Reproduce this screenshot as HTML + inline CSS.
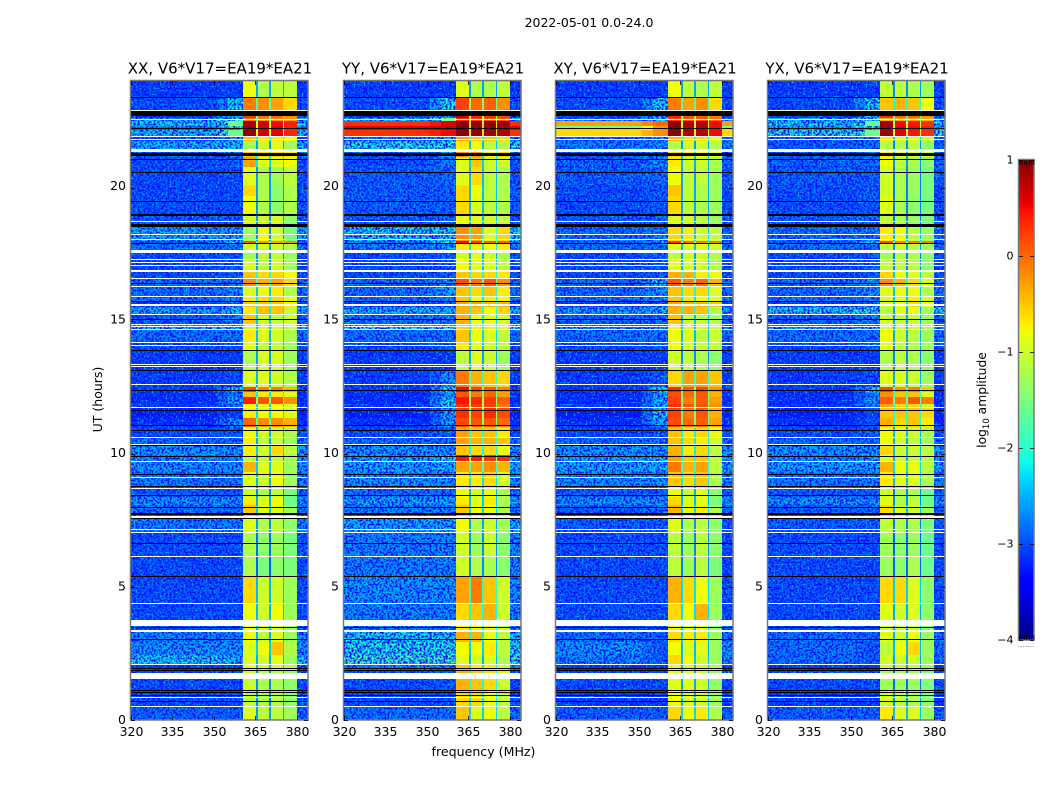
<!DOCTYPE html>
<html lang="en">
<head>
<meta charset="utf-8">
<title>2022-05-01 0.0-24.0</title>
<style>
html,body{margin:0;padding:0;background:#fff;}
svg{display:block;}
text{font-family:"DejaVu Sans","Liberation Sans",sans-serif;fill:#000;}
</style>
</head>
<body>
<svg id="figure" xmlns="http://www.w3.org/2000/svg" width="1050" height="800" viewBox="0 0 1050 800">
<defs>
<filter id="grain" x="0" y="0" width="100%" height="100%" color-interpolation-filters="sRGB">
<feTurbulence type="fractalNoise" baseFrequency="0.5" numOctaves="1" seed="4" result="n1"/>
<feColorMatrix in="n1" type="matrix" values="0 0 0 0 0  0 0 0 0 0.7  0 0 0 0 1  6 0 0 0 -3.5" result="light"/>
<feTurbulence type="fractalNoise" baseFrequency="0.5" numOctaves="1" seed="19" result="n2"/>
<feColorMatrix in="n2" type="matrix" values="0 0 0 0 0  0 0 0 0 0.05  0 0 0 0 1  6 0 0 0 -2.6" result="dark"/>
<feMerge result="m"><feMergeNode in="dark"/><feMergeNode in="light"/></feMerge>
<feComposite in="m" in2="SourceAlpha" operator="in"/>
</filter>
</defs>
<text x="589" y="27" font-size="12.5" text-anchor="middle">2022-05-01 0.0-24.0</text>
<text x="483.5" y="756" font-size="12.6" text-anchor="middle">frequency (MHz)</text>
<text transform="translate(102,399.5) rotate(-90)" font-size="12.5" text-anchor="middle">UT (hours)</text>
<text transform="translate(986,400) rotate(-90)" font-size="12.3" text-anchor="middle">log<tspan font-size="8.5" dy="3">10</tspan><tspan dy="-3"> amplitude</tspan></text>
<g id="panels"></g>
<g id="colorbar"></g>
</svg>
<script>
// ---- chart data ----
const panelTitles = ["XX, V6*V17=EA19*EA21","YY, V6*V17=EA19*EA21","XY, V6*V17=EA19*EA21","YX, V6*V17=EA19*EA21"];
const freqTicks = [320,335,350,365,380];
const hourTicks = [0,5,10,15,20];
const colorbarTicks = [1,0,-1,-2,-3,-4];
// time-row boundaries in hours, top of plot to bottom
const timeEdges = [24,23.36,22.86,22.61,22.49,22.31,22.16,21.93,21.74,21.4,21.14,20.77,20.09,19.68,18.96,18.55,17.99,17.87,17.57,17.27,16.9,16.6,16.26,15.88,15.7,15.51,15.21,14.83,14.65,14.16,13.86,13.11,12.5,12.32,12.13,11.87,11.72,11.34,11,10.59,10.29,9.95,9.69,9.31,8.75,8.37,8.07,7.55,7.02,6.12,5.37,4.39,3.72,3.34,2.93,2.44,2.07,1.84,1.09,0.49,0];
// frequency-column boundaries in MHz and the matching value slot (0 bg,1 edge,2-5 sub-bands,-1 gap between sub-bands,-2 bg/edge blend)
const freqEdges = [320,351,355,360.6,365.07,365.8,370,370.7,374.8,375.5,380,384];
const freqSlots = [0,-2,1,2,-1,3,-1,4,-1,5,0];
// flagged (blank) integrations: [hour, thickness in hours]
const maskedRows = [[22.9,.04],[22.55,.05],[21.93,.04],[21.8,.04],[21.4,.11],[18.74,.05],[18.23,.04],[18.04,.04],[17.59,.1],[17.29,.04],[17.18,.04],[17.07,.04],[16.87,.07],[16.58,.04],[16.28,.05],[15.9,.04],[15.57,.06],[15.23,.04],[14.85,.04],[14.78,.04],[14.66,.05],[14.18,.04],[14.07,.03],[13.35,.04],[13.27,.04],[12.6,.04],[11.74,.04],[10.61,.04],[10.35,.04],[9.71,.04],[9.11,.04],[8.69,.04],[8.43,.04],[7.64,.08],[7.15,.04],[7.04,.04],[6.14,.04],[4.37,.04],[3.63,.23],[3.36,.07],[2.08,.04],[1.67,.23],[.84,.04],[.51,.04]];
// zero-amplitude integrations drawn black: [hour, thickness in hours]
const zeroRows = [[23.38,.04],[22.77,.19],[22.21,.04],[21.25,.1],[21.05,.04],[20.56,.04],[19.47,.04],[18.98,.04],[18.93,.04],[18.59,.13],[17.89,.04],[16.39,.04],[15.72,.04],[15.04,.04],[13.88,.04],[13.13,.04],[12.37,.04],[11.62,.04],[11.06,.04],[10.87,.04],[10.31,.04],[9.89,.04],[9.22,.04],[8.77,.04],[8.43,.04],[7.98,.04],[7.75,.08],[7.57,.04],[6.63,.04],[5.39,.04],[3.47,.05],[3.02,.04],[1.93,.04],[1.86,.04],[1.11,.04],[1.03,.04],[.92,.04],[.69,.04]];
// log10 amplitude per row: [bg, edge, band1, band2, band3, band4]
const valuesXX = [
[-3,-3,-.8,-1.2,-1.1,-1.1],[-2.9,-2.2,-.1,-.2,-.3,-.6],[-3,-2.5,.3,0,0,-.2],[-2.4,-1.8,-.1,-.2,-.2,-.3],
[-2.2,-1.6,.8,.65,.5,.4],[-2.6,-1.8,.85,.65,.55,.4],[-2.3,-1.6,.9,.65,.55,.35],
[-2.9,-2.6,-.5,-.7,-.7,-.8],[-2.3,-2.2,-1.3,-1,-.9,-1.3],[-2.8,-2.6,-.5,-.6,-.6,-.7],[-2.9,-2.8,-.3,-.9,-.9,-.8],
[-2.9,-2.9,-.9,-1.2,-1.3,-1.1],[-2.9,-2.9,-.6,-1.2,-1.4,-1.2],[-2.9,-2.9,-.8,-1.2,-1.4,-1.2],[-2.8,-2.8,-1,-1,-1,-1.4],
[-2.4,-2.4,-1.3,-.8,-1,-1.5],[-2.8,-2.1,.1,-.2,-.3,-.2],[-2.7,-2.7,-1,-1,-1,-1.2],[-2.9,-2.8,-1.3,-1.1,-1.1,-1.3],
[-2.9,-2.8,-1,-1.1,-1,-1.3],[-2.9,-2.8,-.5,-.6,-.6,-.8],[-2.7,-2.6,-.2,-.4,-.3,-.6],[-2.7,-2.5,-.9,-.8,-.7,-1.2],
[-2.7,-2.6,-.7,-.6,-.6,-.8],[-3,-2.8,-.5,-.5,-.5,-.7],[-2.4,-2.2,-.7,-.5,-.5,-1.1],[-2.8,-2.6,-.5,-1,-1.1,-1],
[-2.3,-2.3,-1,-1,-1,-1.1],[-2.7,-2.7,-.7,-.9,-1,-1.2],[-2.9,-2.8,-.9,-1.1,-1.1,-1.3],[-3,-3,-1.2,-.95,-.95,-1.3],
[-3,-2.9,-.9,-.9,-1,-1.2],[-3,-2.2,.2,-.1,-.1,-.4],[-3.1,-2.7,-.5,-.7,-.7,-.9],[-3.1,-2.4,.4,.1,.1,-.2],
[-3,-2.6,-.8,-.8,-.8,-1],[-3.2,-3,-.7,-.8,-.8,-.9],[-3.1,-2.5,0,-.2,-.2,-.4],[-2.9,-2.8,-.8,-1,-1,-1.2],
[-2.7,-2.7,-.7,-1.1,-1.1,-1.3],[-2.5,-2.5,-.7,-1,-.6,-1.1],[-2.5,-2.5,-1.1,-1.1,-1.1,-1.3],[-2.5,-2.5,-.4,-.9,-.9,-1.3],
[-2.6,-2.6,-.9,-1,-.8,-1.3],[-2.8,-2.8,-1,-1.2,-1.1,-1.5],[-2.5,-2.5,-.7,-.9,-.8,-1.6],[-2.7,-2.7,-.5,-.9,-.9,-1.3],
[-2.6,-2.6,-.9,-1.2,-1.1,-1.4],[-2.9,-2.9,-1.2,-1.4,-1.3,-1.5],[-2.9,-2.9,-1.2,-1.5,-1.4,-1.5],[-2.9,-2.9,-.6,-1,-1,-1.3],
[-2.9,-2.9,-.8,-1,-.8,-1.3],[-2.9,-2.9,-.8,-1,-.9,-1.3],[-2.6,-2.6,-.8,-1.1,-.9,-1.3],[-2.5,-2.5,-.9,-.8,-.5,-1.2],
[-2.2,-2.3,-.9,-1,-.9,-1.3],[-3,-3,-.8,-1,-1,-1.2],[-2.9,-2.9,-1,-1.2,-1.2,-1.4],[-2.9,-2.9,-1.1,-1.2,-1.2,-1.4],[-2.8,-2.8,-.9,-1.1,-1.1,-1.3]];
const valuesYY = [
[-3,-3,-.9,-1.2,-1.2,-1.1],[-2.9,-2.1,.2,0,.05,-.2],[-3,-2.4,.7,.4,.3,.2],[-2.2,-1.5,.3,.2,.1,.1],
[.3,.6,.95,.95,.9,.85],[.55,.7,.95,.95,.9,.85],[.3,.5,.95,.9,.85,.8],
[-2.7,-2.4,-.3,-.5,-.5,-.6],[-2.1,-2,-.7,-.8,-1.1,-1.2],[-2.8,-2.5,-.2,-.2,-.7,-.6],[-2.9,-2.6,-.9,-.5,-1,-1],
[-2.8,-2.7,-.9,-.6,-1.1,-1.2],[-2.8,-2.8,-.6,-.8,-1.1,-1.2],[-2.8,-2.8,-.6,-.9,-1.1,-1.2],[-2.8,-2.8,-.8,-.9,-1,-1.1],
[-2.2,-2.2,-.2,-.3,-.9,-.6],[-2.6,-1.9,.5,.3,.1,.1],[-2.6,-2.4,-.7,-.7,-.8,-.7],[-2.9,-2.8,-1,-.9,-1,-1.2],
[-2.9,-2.8,-.8,-.9,-.9,-1.1],[-2.9,-2.8,-.5,-.6,-.6,-.7],[-2.7,-2.5,.15,-.05,.1,-.2],[-2.7,-2.4,-.5,-.6,-.5,-.7],
[-2.7,-2.6,-.5,-.8,-.7,-.8],[-3,-2.8,-.3,-.3,-.4,-.4],[-2.3,-2.3,-.4,-.5,-.8,-.6],[-2.7,-2.6,-.4,-.8,-.8,-1],
[-2.1,-2.1,-.6,-.7,-.7,-.9],[-2.7,-2.7,-.5,-.8,-.9,-1.1],[-2.9,-2.8,-.7,-.9,-1,-1.1],[-3,-3,-1.1,-.9,-1,-1.3],
[-3,-2.5,-.1,-.4,-.5,-.6],[-3,-2.1,.5,.2,.1,-.1],[-3.1,-2.4,.1,-.1,0,-.3],[-3.1,-2.2,.45,.35,.25,.05],
[-3,-2.2,.3,.25,.2,-.1],[-3.2,-2.4,.3,.2,.35,.15],[-3.1,-2.4,.15,.1,.1,0],[-2.9,-2.8,-.3,-.5,-.5,-.7],
[-2.7,-2.7,-.3,-.4,-.4,-.5],[-2.5,-2.5,-.5,-.6,-.6,-.8],[-2.4,-2.1,.45,.4,.3,.3],[-2.4,-2.3,-.3,-.3,-.2,-.4],
[-2.5,-2.5,-.7,-.7,-.6,-1],[-2.7,-2.7,-.8,-1,-.8,-1.2],[-2.4,-2.4,-.7,-.9,-.7,-1.2],[-2.6,-2.6,-.5,-.8,-.8,-1.2],
[-2.4,-2.4,-.8,-1.2,-1,-1.3],[-2.6,-2.6,-1,-1.3,-1,-1.4],[-2.6,-2.6,-1,-1.2,-1.2,-1.4],[-2.5,-2.5,-.3,-.1,-.5,-1],
[-2.6,-2.6,-.6,-.5,-.4,-1],[-2.6,-2.6,-.7,-.7,-.7,-1],[-2.2,-2.2,-.4,-.4,-.8,-1.1],[-2.1,-2.1,-.8,-.8,-.7,-1.1],
[-1.9,-1.9,-.9,-1,-.9,-1.2],[-2.6,-2.6,-.5,-.7,-.7,-1],[-2.9,-2.8,-.4,-.5,-.6,-1],[-2.9,-2.9,-.6,-.6,-.8,-1.1],[-2.7,-2.7,-.5,-.9,-.8,-1.1]];
const valuesXY = [
[-3,-3,-.8,-1.1,-1.2,-1.1],[-2.9,-2.2,-.1,-.3,-.2,-.6],[-3,-2.3,.4,.1,.1,-.1],[-2.6,-2.2,.2,.1,.1,0],
[-.3,0,.95,.8,.8,.5],[-1.6,-.2,.95,.8,.8,.5],[-.6,-.2,.95,.8,.75,.5],
[-2.8,-2.6,-.4,-.6,-.6,-.8],[-2.6,-2.5,-1.2,-1,-1,-1.2],[-2.8,-2.7,-.6,-.7,-.8,-.9],[-2.8,-2.5,-.7,-1,-1,-1.2],
[-2.8,-2.7,-.8,-1.1,-1.1,-1.3],[-2.9,-2.8,-.5,-1.1,-1.2,-1.3],[-2.9,-2.8,-.6,-1.1,-1.2,-1.3],[-2.8,-2.7,-.9,-1,-1.1,-1.3],
[-2.7,-2.6,-.6,-.7,-1,-1.1],[-2.8,-2.2,.3,0,-.1,-.1],[-2.7,-2.7,-.9,-.9,-.9,-1],[-2.9,-2.8,-1.1,-1,-1,-1.2],
[-2.9,-2.8,-.9,-1,-1,-1.2],[-2.9,-2.8,-.4,-.4,-.7,-.8],[-2.7,-2.2,.1,-.1,0,-.4],[-2.7,-2.5,-.5,-.6,-.6,-.9],
[-2.7,-2.6,-.5,-.7,-.8,-.9],[-3,-2.8,-.3,-.4,-.4,-.5],[-2.4,-2.3,-.4,-.4,-.5,-1.2],[-2.8,-2.7,-.5,-1,-1.1,-1.2],
[-2.6,-2.5,-.9,-1,-1,-1.1],[-2.7,-2.7,-.8,-.9,-1.1,-1],[-2.9,-2.8,-.8,-1,-1.1,-1.1],[-3,-3,-1,-1.1,-1.2,-1.4],
[-3,-2.8,-.6,-.3,-.3,-.5],[-3,-2.1,.35,.1,.2,-.2],[-3.1,-2.4,.15,0,.1,-.4],[-3.1,-2.3,.2,-.1,.05,-.3],
[-3,-2.4,.3,.1,.1,-.2],[-3.2,-2.2,.2,-.1,.1,-.4],[-3.1,-2.3,.15,0,.05,-.3],[-2.9,-2.8,-.5,-.7,-.6,-.8],
[-2.7,-2.7,-.5,-.6,-.7,-1],[-2.5,-2.5,-.4,-.7,-.6,-1.1],[-2.4,-2.3,-.3,-.5,-.5,-1.1],[-2.4,-2.3,-.1,-.4,-.3,-1.1],
[-2.5,-2.5,-.5,-.6,-.5,-1.2],[-2.8,-2.8,-.8,-1,-.9,-1.4],[-2.5,-2.5,-.6,-.9,-.9,-1.5],[-2.8,-2.7,-.4,-.8,-.7,-1.2],
[-2.8,-2.8,-.9,-1.2,-1.1,-1.4],[-2.9,-2.9,-1.1,-1.3,-1.1,-1.4],[-2.9,-2.9,-1.1,-1.3,-1.1,-1.5],[-2.9,-2.9,-.4,-.6,-.8,-1.3],
[-2.9,-2.9,-.6,-.8,-.4,-1.3],[-2.9,-2.9,-.7,-.9,-.8,-1.3],[-2.7,-2.8,-.6,-.7,-.7,-1.3],[-2.5,-2.8,-.8,-.9,-.9,-1.3],
[-2.6,-2.8,-.6,-.8,-1,-1.3],[-3,-3,-.8,-.9,-1,-1.2],[-2.9,-2.9,-.9,-.9,-1,-1.4],[-3,-3,-.8,-.9,-1,-1.3],[-2.8,-2.8,-.6,-.8,-.7,-1.2]];
const valuesYX = [
[-3,-3,-1.1,-1.1,-1.2,-1.3],[-2.9,-2.2,-.5,-.4,-.5,-.8],[-3,-2.3,.35,0,0,-.2],[-2.3,-1.9,-.4,-.4,-.3,-.4],
[-2.2,-1.7,.85,.5,.45,.3],[-2.4,-1.8,.85,.55,.5,.4],[-2.1,-1.6,.85,.55,.45,.3],
[-2.8,-2.6,-.7,-.9,-.9,-1],[-2.8,-2.7,-1.2,-1.2,-1.1,-1.4],[-2.8,-2.7,-.7,-.9,-.9,-1],[-2.8,-2.7,-.8,-1.1,-1.2,-1.4],
[-2.8,-2.8,-1,-1.2,-1.3,-1.5],[-2.9,-2.8,-1,-1.2,-1.3,-1.5],[-2.9,-2.8,-.9,-1.2,-1.4,-1.5],[-2.8,-2.7,-1.1,-1.2,-1.3,-1.5],
[-2.7,-2.6,-.7,-.8,-1.1,-1.3],[-2.8,-2.2,.2,-.1,-.1,-.1],[-2.7,-2.7,-1.1,-1,-1.1,-1.3],[-2.9,-2.8,-1.3,-1.2,-1.2,-1.4],
[-2.9,-2.8,-1.1,-1.1,-1.1,-1.4],[-2.9,-2.8,-.6,-.8,-.9,-1.1],[-2.7,-2.5,-.2,-.4,-.6,-.9],[-2.7,-2.5,-.9,-.8,-.8,-1.2],
[-2.7,-2.6,-1,-.9,-.7,-1],[-3,-2.8,-.9,-.8,-.6,-.8],[-2.2,-2,-1.2,-.9,-.8,-1.3],[-2.8,-2.6,-1,-1.1,-1,-1.3],
[-2.5,-2.4,-1,-1.1,-1,-1.2],[-2.7,-2.7,-.8,-1,-1.1,-1.3],[-2.9,-2.8,-.9,-1.1,-1.2,-1.3],[-3,-3,-1.2,-1.1,-1.2,-1.4],
[-3,-2.9,-.9,-.9,-1,-1.3],[-3,-2.1,.2,-.2,-.1,-.5],[-3.1,-2.6,-.2,-.5,-.5,-.9],[-3.1,-2.5,.05,-.1,.1,-.1],
[-3,-2.6,-.3,-.6,-.6,-1],[-3.2,-2.9,-.5,-.5,-.5,-.6],[-3.1,-2.9,-.4,-.6,-.5,-.7],[-2.9,-2.8,-.8,-.9,-1,-1.2],
[-2.7,-2.7,-.8,-1,-1.1,-1.3],[-2.5,-2.5,-.6,-1,-1,-1.1],[-2.5,-2.4,-.9,-1,-1.1,-1.1],[-2.4,-2.4,-.4,-.8,-.8,-1.1],
[-2.6,-2.6,-.7,-.9,-.9,-1.2],[-2.8,-2.8,-1,-1.2,-1.2,-1.6],[-2.5,-2.5,-.9,-1.2,-1.1,-1.6],[-2.8,-2.7,-.6,-.9,-1,-1.3],
[-2.8,-2.8,-1.1,-1.2,-1.2,-1.5],[-2.9,-2.9,-1.3,-1.4,-1.3,-1.6],[-2.9,-2.9,-1.3,-1.4,-1.2,-1.6],[-2.9,-2.9,-.6,-.6,-.9,-1.4],
[-2.9,-2.9,-.9,-1,-.9,-1.4],[-2.9,-2.9,-1,-1,-1,-1.4],[-2.7,-2.8,-.9,-1,-.8,-1.3],[-2.7,-2.8,-1.1,-.8,-.6,-1.3],
[-2.7,-2.8,-1,-1,-1,-1.3],[-3,-3,-1,-1.1,-1.1,-1.4],[-2.9,-2.9,-1.3,-1.3,-1.3,-1.5],[-3,-3,-1,-1.1,-1.2,-1.4],[-2.8,-2.8,-.7,-.9,-.9,-1.3]];
const panelValues = [valuesXX,valuesYY,valuesXY,valuesYX];

// ---- layout and scales ----
const NS = "http://www.w3.org/2000/svg";
const panelLeft = [131,344,556,768];
const panelWidth = 177, plotTop = 81, plotBottom = 720;
const xScale = (f,left) => left + (f-320)*panelWidth/64;
const yScale = h => plotBottom - h*(plotBottom-plotTop)/24;
const cbTop = 160, cbBottom = 640, cbLeft = 1019, cbWidth = 15;
const cbScale = v => cbBottom - (v+4)*(cbBottom-cbTop)/5;

function jetChannel(t,a,b,c,d){
  const s = t<a?0:t<b?(t-a)/(b-a):t<c?1:t<d?1-(t-c)/(d-c):0;
  return s;
}
function jet(v){
  const t = Math.max(0,Math.min(1,(v+4)/5));
  const r = t<.35?0:t<.66?(t-.35)/.31:t<.89?1:1-(t-.89)/.11*.5;
  const g = jetChannel(t,.125,.375,.64,.91);
  const b = t<.11?.5+t/.11*.5:t<.34?1:t<.65?1-(t-.34)/.31:0;
  return "rgb("+Math.round(r*255)+","+Math.round(g*255)+","+Math.round(b*255)+")";
}
function mk(parent,tag,attrs){
  const el = document.createElementNS(NS,tag);
  for(const k in attrs){ el.setAttribute(k,attrs[k]); }
  parent.appendChild(el);
  return el;
}

const root = document.getElementById("panels");
panelValues.forEach((rows,p)=>{
  const left = panelLeft[p];
  const g = mk(root,"g",{});
  
  

  const cells = mk(g,"g",{"shape-rendering":"crispEdges"});
  
  
  const noise = mk(g,"g",{"filter":"url(#grain)","shape-rendering":"crispEdges"});
  
  

  rows.forEach((row,i)=>{
    const y0 = Math.round(yScale(timeEdges[i])), y1 = Math.round(yScale(timeEdges[i+1]));
    const bandMean = (row[2]+row[3]+row[4]+row[5])/4;
    freqSlots.forEach((slot,c)=>{
      const x0 = Math.round(xScale(freqEdges[c],left)), x1 = Math.round(xScale(freqEdges[c+1],left));
      const v = slot===-1 ? bandMean-1.5 : slot===-2 ? (row[0]+row[1])/2 : row[slot];
      const cell = mk(cells,"rect",{x:x0,y:y0,width:x1-x0,height:y1-y0,fill:jet(v)});
      
      
      if(slot!==-1 && slot<2 && v<-1.7){
        const n = mk(noise,"rect",{x:x0,y:y0,width:x1-x0,height:y1-y0,fill:"#000"});
        
        
      }
    });
  });

  const masks = mk(g,"g",{"shape-rendering":"crispEdges"});
  
  
  maskedRows.forEach(m=>{
    const h = Math.max(1,Math.round(m[1]*(plotBottom-plotTop)/24));
    const r = mk(masks,"rect",{x:left,y:Math.round(yScale(m[0])-h/2),width:panelWidth,height:h,fill:"#fff"});
    
    
  });
  zeroRows.forEach(m=>{
    const h = Math.max(1,Math.round(m[1]*(plotBottom-plotTop)/24));
    const r = mk(masks,"rect",{x:left,y:Math.round(yScale(m[0])-h/2),width:panelWidth,height:h,fill:"#000"});
    
    
  });

  const frame = mk(g,"rect",{x:left-.5,y:plotTop-.5,width:panelWidth+.5,height:plotBottom-plotTop+.5,fill:"none",stroke:"#777","stroke-width":1.5});
  
  

  freqTicks.forEach(f=>{
    const x = Math.round(xScale(f,left))+.5;
    const t1 = mk(g,"line",{x1:x,x2:x,y1:plotBottom,y2:plotBottom-4,stroke:"#000","stroke-width":.8});
    
    
    const t2 = mk(g,"line",{x1:x,x2:x,y1:plotTop,y2:plotTop+4,stroke:"#000","stroke-width":.8});
    
    
    const lab = mk(g,"text",{x:x,y:736,"font-size":12.5,"text-anchor":"middle"});
    lab.textContent = String(f);
    
    
  });
  hourTicks.forEach(h=>{
    const y = Math.round(yScale(h))+.5;
    const t1 = mk(g,"line",{x1:left,x2:left+4,y1:y,y2:y,stroke:"#000","stroke-width":.8});
    
    
    const t2 = mk(g,"line",{x1:left+panelWidth,x2:left+panelWidth-4,y1:y,y2:y,stroke:"#000","stroke-width":.8});
    
    
    const lab = mk(g,"text",{x:left-5,y:y+3.5-h*.1,"font-size":12.5,"text-anchor":"end"});
    lab.textContent = String(h);
    
    
  });

  const title = mk(g,"text",{x:left+89,y:73.5,"font-size":15,"text-anchor":"middle"});
  title.textContent = panelTitles[p];
  
  
});

// ---- colorbar ----
const cb = document.getElementById("colorbar");
const cbCells = mk(cb,"g",{"shape-rendering":"crispEdges"});


for(let py=cbTop;py<cbBottom;py+=2){
  const v = -4+(cbBottom-py-1)*5/(cbBottom-cbTop);
  const s = mk(cbCells,"rect",{x:cbLeft,y:py,width:cbWidth,height:2,fill:jet(v)});
  
  
}
const cbFrame = mk(cb,"rect",{x:cbLeft-.5,y:cbTop-.5,width:cbWidth+.5,height:cbBottom-cbTop+.5,fill:"none",stroke:"#777","stroke-width":1.5});


colorbarTicks.forEach(v=>{
  const y = Math.round(cbScale(v))+.5;
  const a = mk(cb,"line",{x1:cbLeft,x2:cbLeft+4,y1:y,y2:y,stroke:"#000","stroke-width":.8});
  
  
  const b = mk(cb,"line",{x1:cbLeft+cbWidth,x2:cbLeft+cbWidth-4,y1:y,y2:y,stroke:"#000","stroke-width":.8});
  
  
  const lab = mk(cb,"text",{x:cbLeft-5.5,y:y+3,"font-size":11,"text-anchor":"end"});
  lab.textContent = (v<0?"\u2212":"")+Math.abs(v);
  
  
});
[0,1,2,3,4,5,6].forEach(k=>{
  const x = cbLeft+.5+k*2.4;
  const top = mk(cb,"line",{x1:x,x2:x,y1:cbTop,y2:cbTop+5,stroke:"#000","stroke-width":.7});
  
  
  const bot = mk(cb,"line",{x1:x,x2:x,y1:cbBottom,y2:cbBottom-5,stroke:"#000","stroke-width":.7});
  
  
  const dot = mk(cb,"rect",{x:x-1,y:646,width:1,height:1,fill:"#999"});
  
  
});
</script>
</body>
</html>
